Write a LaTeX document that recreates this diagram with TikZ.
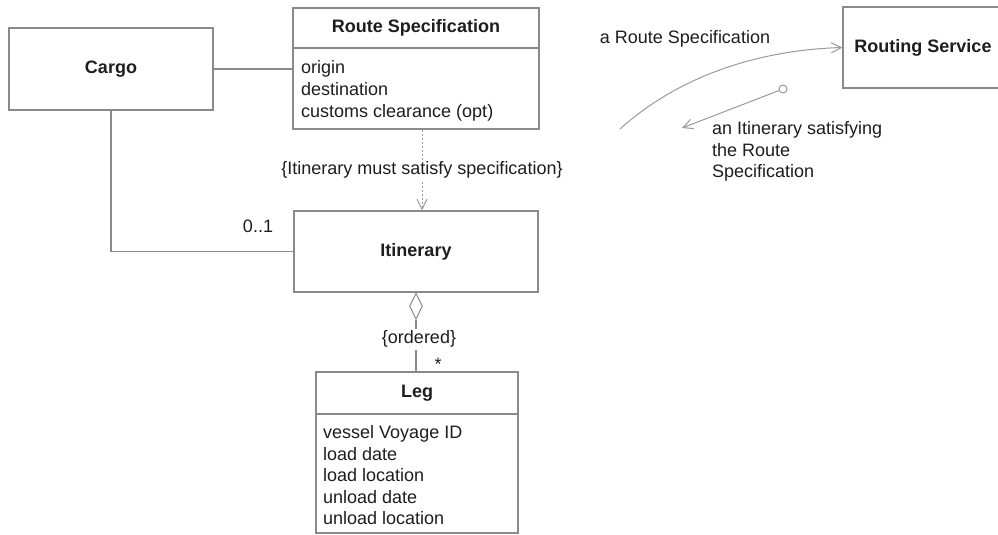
\documentclass[tikz,border=0pt]{standalone}
\usepackage{fontspec}
\setmainfont{Liberation Sans}
\usetikzlibrary{arrows.meta,shapes.geometric}
\definecolor{linegray}{HTML}{8A8A8A}
\definecolor{lightline}{HTML}{9A9A9A}
\definecolor{ink}{HTML}{1E1E1E}
\tikzset{
  box/.style={draw=linegray, line width=1.3pt, fill=white, inner sep=0pt, text=ink,
    font=\fontsize{18}{21.7}\selectfont\bfseries},
  lbl/.style={inner sep=0pt, text=ink, font=\fontsize{18}{21.7}\selectfont,
    text height=13pt, text depth=4pt},
  ttl/.style={lbl, font=\fontsize{18}{21.7}\selectfont\bfseries},
  conn/.style={draw=linegray, line width=1.2pt},
  sepline/.style={draw=linegray, line width=1.3pt},
  msg/.style={draw=lightline, line width=1pt, -{Straight Barb[length=10pt,width=10pt]}},
  depline/.style={msg, dash pattern=on 2.5pt off 1.5pt},
}
\begin{document}
\begin{tikzpicture}[x=1pt,y=-1pt]
\useasboundingbox (0,0) rectangle (998,535);
\clip (0,0) rectangle (998,535);
\fill[white] (0,0) rectangle (998,535);

% Cargo
\node[box, minimum width=204pt, minimum height=82pt] (cargo) at (111,69) {Cargo};

% Route Specification
\node[box, minimum width=246pt, minimum height=121pt] (rs) at (416,68.5) {};
\node[ttl] (rst) at (416,28) {Route Specification};
\coordinate (rssep) at (0,48);
\draw[sepline] (rs.west |- rssep) -- (rs.east |- rssep);
\node[lbl, anchor=west] (rsa1) at (301,69) {origin};
\node[lbl, anchor=west] (rsa2) at (301,91) {destination};
\node[lbl, anchor=west] (rsa3) at (301,113) {customs clearance (opt)};

% Itinerary
\node[box, minimum width=244pt, minimum height=81pt] (itin) at (416,251.5) {Itinerary};

% Leg
\node[box, minimum width=202pt, minimum height=161pt] (leg) at (417,452.5) {};
\node[ttl] (legt) at (417,393) {Leg};
\coordinate (legsep) at (0,414);
\draw[sepline] (leg.west |- legsep) -- (leg.east |- legsep);
\node[lbl, anchor=west] (la1) at (323,434) {vessel Voyage ID};
\node[lbl, anchor=west] (la2) at (323,455.5) {load date};
\node[lbl, anchor=west] (la3) at (323,477) {load location};
\node[lbl, anchor=west] (la4) at (323,498.5) {unload date};
\node[lbl, anchor=west] (la5) at (323,520) {unload location};

% Routing Service
\node[box, minimum width=160pt, minimum height=81pt] (rsvc) at (923,47.5) {Routing Service};

% Cargo associations
\draw[conn] (cargo.east) -- (cargo.east -| rs.west);
\draw[conn] (cargo.south) |- (itin.west);
\node[lbl] (m01) at (258,228) {0..1};

% dependency
\coordinate (depx) at (422,0);
\draw[depline] (rs.south -| depx) -- (itin.north -| depx);
\node[lbl, fill=white, inner sep=2pt] (depl) at (422,170) {\{Itinerary must satisfy specification\}};

% aggregation
\node[diamond, draw=linegray, line width=1pt, fill=white, inner sep=0pt,
  minimum width=13pt, minimum height=26pt, anchor=north] (agg) at (itin.south) {};
\draw[conn] (agg.south) -- (agg.south |- leg.north);
\node[lbl, fill=white, inner sep=2pt] (ord) at (419,339) {\{ordered\}};
\node[lbl] (star) at (438,366) {*};

% messages
\node[lbl] (req) at (685,39) {a Route Specification};
\coordinate (cs) at (620,129);
\draw[msg] (cs) .. controls (680,75) and (760,50) .. (rsvc.west);
\node[circle, draw=lightline, line width=1pt, fill=white, minimum size=8pt, inner sep=0pt] (lol) at (783,89) {};
\coordinate (rt) at (682,128);
\draw[msg] (lol) -- (rt);
\node[lbl, anchor=west] (ret1) at (712,130) {an Itinerary satisfying};
\node[lbl, anchor=west] (ret2) at (712,152) {the Route};
\node[lbl, anchor=west] (ret3) at (712,173) {Specification};
\end{tikzpicture}
\end{document}
